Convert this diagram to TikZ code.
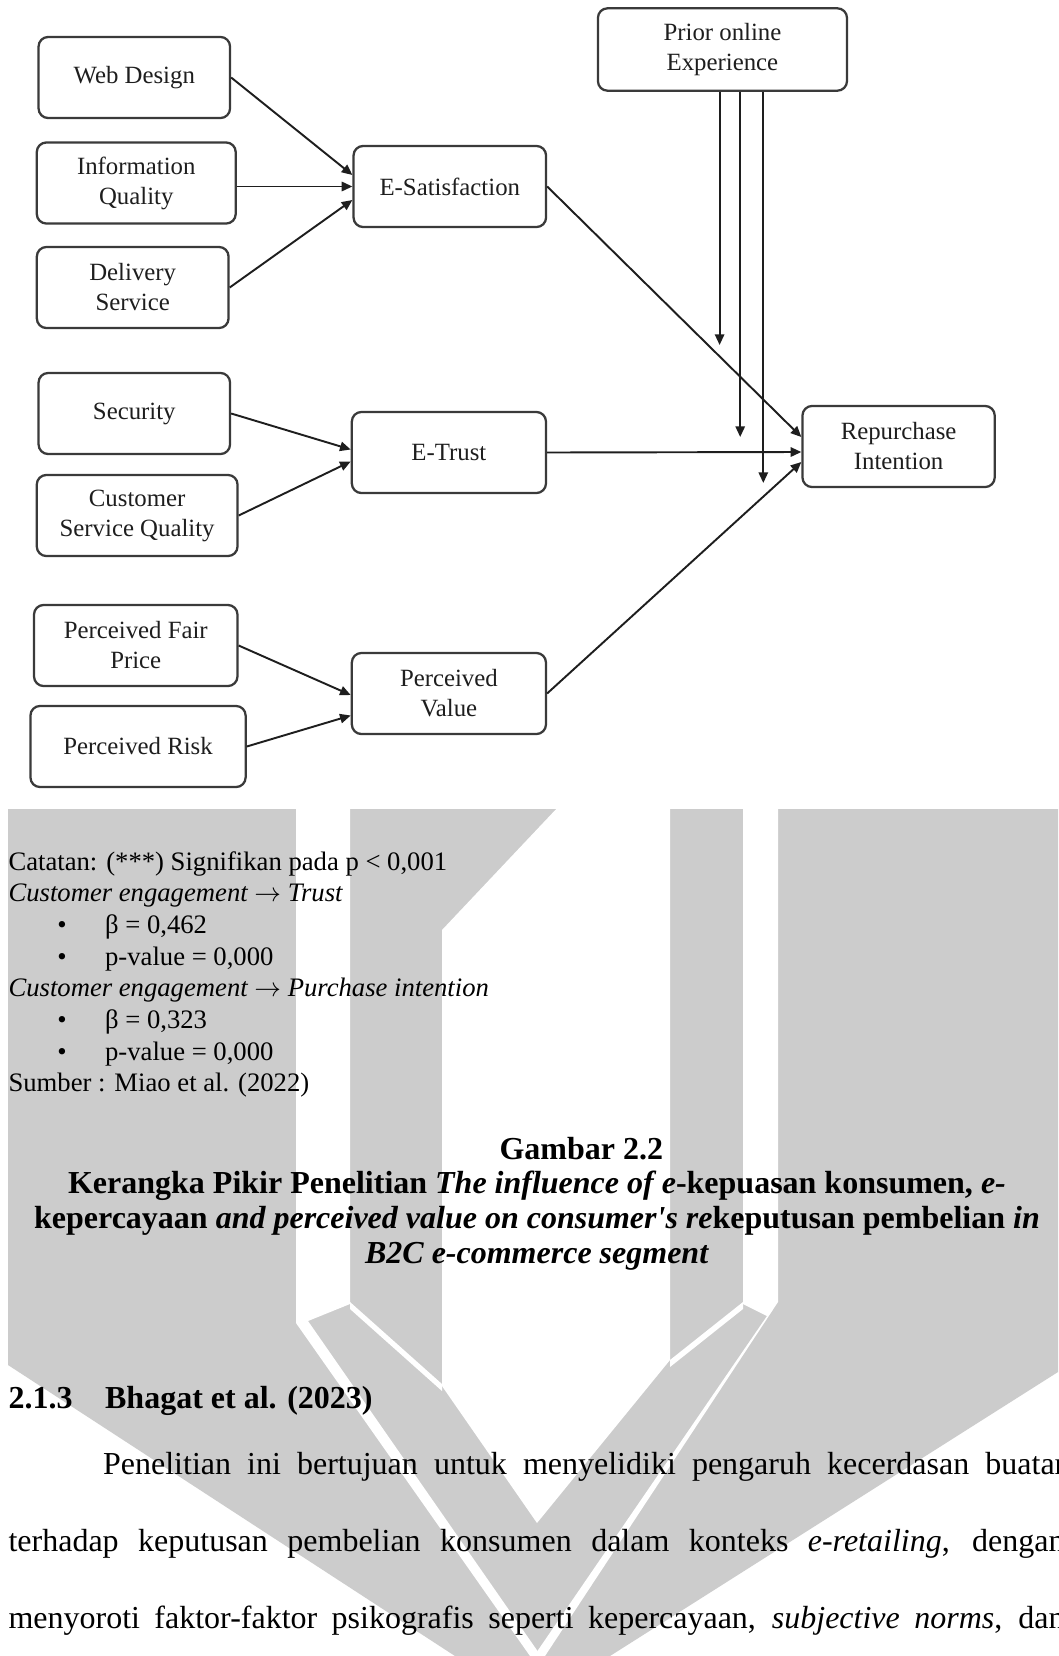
\documentclass[tikz,border=0pt]{standalone}
\usepackage{fontspec}
\setmainfont{Liberation Serif}
\usetikzlibrary{arrows.meta,calc}
\definecolor{wmgrey}{HTML}{CCCCCC}
\definecolor{boxline}{HTML}{3A3A3A}
\definecolor{ink}{HTML}{1E1E1E}
\tikzset{
  box/.style={draw=boxline, line width=0.85pt, rounded corners=3.6pt,
    minimum height=30.4pt, inner sep=0pt, align=center,
    font=\fontsize{9.3}{11.25}\selectfont, text=ink},
  link/.style={draw=ink, line width=0.72pt, -{Triangle[length=4pt,width=3.5pt]}},
  notetxt/.style={anchor=base west, inner sep=0pt, font=\fontsize{10}{12}\selectfont},
  bodytxt/.style={anchor=base west, inner sep=0pt, font=\fontsize{12}{14}\selectfont},
  captxt/.style={anchor=base, inner sep=0pt, font=\fontsize{12}{14}\selectfont\bfseries},
}
\begin{document}
\begin{tikzpicture}[x=0.375pt,y=-0.375pt]
\useasboundingbox (0,0) rectangle (1058,1656);
\clip (0,0) rectangle (1058,1656);
\fill[white] (0,0) rectangle (1058,1656);

% background emblem
\fill[wmgrey] (8,809) -- (1058,809) -- (1058,1372) -- (610,1656) -- (455,1656) -- (8,1365) -- cycle;
\fill[white] (296,805) -- (350,805) -- (350,1304) -- (308,1321) -- (541,1656) -- (530,1656) -- (296,1323) -- cycle;
\fill[white] (350,1302) -- (442,1384) -- (442,1391) -- (350,1309) -- cycle;
\fill[white] (560,805) -- (670,805) -- (670,1360) -- (537,1523) -- (442,1386) -- (442,930) -- cycle;
\fill[white] (670,1360) -- (743,1302) -- (743,1309) -- (670,1367) -- cycle;
\fill[white] (743,805) -- (778,805) -- (778,1302) -- (545,1656) -- (534,1656) -- (767,1316) -- (743,1304) -- cycle;

% framework boxes
\node[box, minimum width=71.8pt] (wd)  at (134.3,77.5)  {Web Design};
\node[box, minimum width=74.6pt] (iq)  at (136.25,183)  {Information\\Quality};
\node[box, minimum width=71.9pt] (ds)  at (132.7,287.5) {Delivery\\Service};
\node[box, minimum width=71.8pt] (sec) at (134.3,413.5) {Security};
\node[box, minimum width=75.3pt] (csq) at (137.15,515.5) {Customer\\Service Quality};
\node[box, minimum width=76.3pt] (pfp) at (135.75,645.5) {Perceived Fair\\Price};
\node[box, minimum width=80.7pt] (pr)  at (138.05,746.5) {Perceived Risk};
\node[box, minimum width=72.2pt] (es)  at (449.8,186.5) {E-Satisfaction};
\node[box, minimum width=72.8pt] (et)  at (448.9,452.5) {E-Trust};
\node[box, minimum width=72.8pt] (pv)  at (448.9,693.5) {Perceived\\Value};
\node[box, minimum width=93.4pt, minimum height=30.9pt] (poe) at (722.45,49.5) {Prior online\\Experience};
\node[box, minimum width=72.1pt] (ri)  at (898.6,446.5) {Repurchase\\Intention};

% paths
\draw[link] (wd.east) -- ($(es.west)+(0,-11.5)$);
\draw[link] (iq.east |- es.west) -- (es.west);
\draw[link] (ds.east) -- ($(es.west)+(0,13.5)$);
\draw[link] (sec.east) -- ($(et.west)+(0,-3)$);
\draw[link] (csq.east) -- ($(et.west)+(0,9)$);
\draw[link] (pfp.east) -- ($(pv.west)+(0,1.5)$);
\draw[link] (pr.east) -- ($(pv.west)+(0,22)$);
\draw[link] (es.east) -- ($(ri.west)+(0,-9.5)$);
\draw[link] (et.east) -- ($(ri.west)+(0,5.5)$);
\draw[link] (pv.east) -- ($(ri.west)+(0,15.5)$);

% moderating paths from prior experience
\coordinate (m1) at (719.6,345);
\coordinate (m2) at (740.2,437);
\coordinate (m3) at (763.3,483);
\draw[link] (poe.south -| m1) -- (m1);
\draw[link] (poe.south -| m2) -- (m2);
\draw[link] (poe.south -| m3) -- (m3);

% notes
\node[notetxt] (n1) at (8,870) {Catatan: (***) Signifikan pada p < 0,001};
\node[notetxt] (n2) at (8,901.7) {\itshape Customer engagement {\upshape$\rightarrow$} Trust};
\node[notetxt, anchor=base] (d1) at (62,933.4) {•};
\node[notetxt] (n3) at (104.6,933.4) {β = 0,462};
\node[notetxt, anchor=base] (d2) at (62,965.1) {•};
\node[notetxt] (n4) at (104.6,965.1) {p-value = 0,000};
\node[notetxt] (n5) at (8,996.8) {\itshape Customer engagement {\upshape$\rightarrow$} Purchase intention};
\node[notetxt, anchor=base] (d3) at (62,1028.5) {•};
\node[notetxt] (n6) at (104.6,1028.5) {β = 0,323};
\node[notetxt, anchor=base] (d4) at (62,1060.2) {•};
\node[notetxt] (n7) at (104.6,1060.2) {p-value = 0,000};
\node[notetxt] (n8) at (8,1091.9) {Sumber : Miao et al. (2022)};

% caption
\node[captxt, anchor=base west] (c1) at (499,1159) {Gambar 2.2};
\node[captxt] (c2) at (537,1193) {Kerangka Pikir Penelitian \textit{The influence of e}-kepuasan konsumen, \textit{e-}};
\node[captxt] (c3) at (537,1228) {kepercayaan \textit{and perceived value on consumer\textquotesingle s re}keputusan pembelian \textit{in}};
\node[captxt] (c4) at (537,1263) {\textit{B2C e-commerce segment}};

% section heading
\node[bodytxt, font=\fontsize{12}{14}\selectfont\bfseries] (h1) at (8,1408) {2.1.3};
\node[bodytxt, font=\fontsize{12}{14}\selectfont\bfseries] (h2) at (104.6,1408) {Bhagat et al. (2023)};

% paragraph, justified lines running past the right edge
\node[bodytxt] (p1) at (102.6,1474) {\makebox[362.8pt][s]{Penelitian ini bertujuan untuk menyelidiki pengaruh kecerdasan buatan}};
\node[bodytxt] (p2) at (8,1551) {\makebox[396pt][s]{terhadap keputusan pembelian konsumen dalam konteks \textit{e-retailing}, dengan}};
\node[bodytxt] (p3) at (8,1628) {\makebox[396pt][s]{menyoroti faktor-faktor psikografis seperti kepercayaan, \textit{subjective norms}, dan}};
\end{tikzpicture}
\end{document}
